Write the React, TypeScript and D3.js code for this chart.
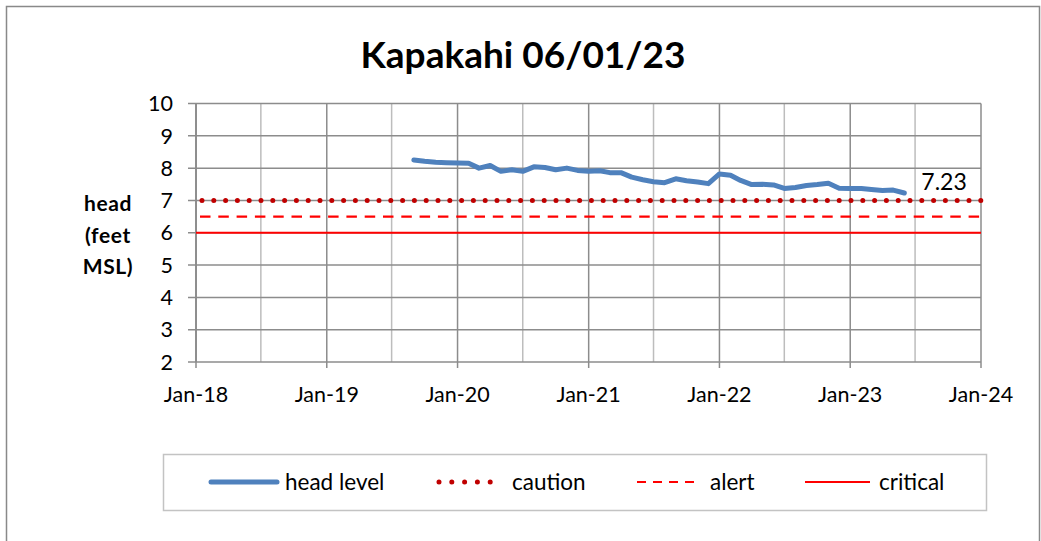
import React from "react";
import * as d3 from "d3";

const title = "Kapakahi 06/01/23";
const yTicks = [2, 3, 4, 5, 6, 7, 8, 9, 10];
const xTickLabels = ["Jan-18", "Jan-19", "Jan-20", "Jan-21", "Jan-22", "Jan-23", "Jan-24"];
const xTickYears = [2018, 2019, 2020, 2021, 2022, 2023, 2024];

// head level, monthly from Sep 2019 to Jun 2023
const headStart = [2019, 8]; // year, month index (0 = Jan)
const headValues = [
  8.25, 8.21, 8.18, 8.17, 8.16, 8.15, 8.0, 8.08, 7.9, 7.95, 7.9, 8.04,
  8.02, 7.95, 8.0, 7.93, 7.9, 7.92, 7.86, 7.86, 7.72, 7.64, 7.58, 7.55,
  7.67, 7.61, 7.57, 7.52, 7.82, 7.78, 7.62, 7.49, 7.5, 7.48, 7.37, 7.4,
  7.46, 7.49, 7.53, 7.38, 7.37, 7.37, 7.34, 7.31, 7.32, 7.23,
];
const caution = 7;
const alert = 6.5;
const critical = 6;
const lastLabel = "7.23";
const legendLabels = ["head level", "caution", "alert", "critical"];

const FONT = "Lato, 'Open Sans', sans-serif";
const BLUE = "#4F81BD";
const DARKRED = "#C00000";
const RED = "#FF0000";

export default function App() {
  const W = 1041, H = 541;
  const left = 196, right = 981, top = 103.5, bottom = 362;
  const x = d3.scaleTime().domain([new Date(2018, 0, 1), new Date(2024, 0, 1)]).range([left, right]);
  const y = d3.scaleLinear().domain([2, 10]).range([bottom, top]);

  const headData = headValues.map((v, i) => ({ d: new Date(headStart[0], headStart[1] + i, 1), v }));
  const line = d3.line<{ d: Date; v: number }>().x((p) => x(p.d)).y((p) => y(p.v));

  const halfYears: Date[] = [];
  for (let yr = 2018; yr <= 2024; yr++) {
    halfYears.push(new Date(yr, 0, 1));
    if (yr < 2024) halfYears.push(new Date(yr, 6, 1));
  }
  const last = headData[headData.length - 1];

  const legendY = 482;
  const legendItems = [
    { x1: 211, x2: 277, tx: 285, label: legendLabels[0], stroke: BLUE, w: 5, dash: undefined as string | undefined, cap: "round" },
    { x1: 439, x2: 503, tx: 512, label: legendLabels[1], stroke: DARKRED, w: 5, dash: "0 12.8", cap: "round" },
    { x1: 637, x2: 700, tx: 710, label: legendLabels[2], stroke: RED, w: 2.2, dash: "9 7", cap: "butt" },
    { x1: 805, x2: 870, tx: 879, label: legendLabels[3], stroke: RED, w: 2, dash: undefined, cap: "butt" },
  ];

  return (
    <svg width={W} height={H} style={{ position: "absolute", left: 0, top: 0, background: "#fff" }} fontFamily={FONT}>
      <rect x={6.5} y={6.5} width={1033} height={560} fill="#fff" stroke="#898989" strokeWidth={1.5} />
      <text x={523} y={68} textAnchor="middle" fontSize={37} fontWeight="bold" fill="#000">{title}</text>

      {/* vertical gridlines */}
      {halfYears.map((d, i) => (
        <line key={"v" + i} x1={x(d)} x2={x(d)} y1={top} y2={bottom} stroke={d.getMonth() === 0 ? "#8c8c8c" : "#bdbdbd"} strokeWidth={1.5} />
      ))}
      {/* horizontal gridlines */}
      {yTicks.map((t) => (
        <line key={"h" + t} x1={left - 8} x2={right} y1={y(t)} y2={y(t)} stroke="#8c8c8c" strokeWidth={1.5} />
      ))}
      {/* x ticks */}
      {xTickYears.map((yr) => (
        <line key={"xt" + yr} x1={x(new Date(yr, 0, 1))} x2={x(new Date(yr, 0, 1))} y1={bottom} y2={bottom + 6} stroke="#8c8c8c" strokeWidth={1.5} />
      ))}
      <line x1={left} x2={left} y1={top} y2={bottom} stroke="#8c8c8c" strokeWidth={1.8} />

      {/* y tick labels */}
      {yTicks.map((t) => (
        <text key={"yl" + t} x={173} y={y(t)} dy="0.36em" textAnchor="end" fontSize={21.5} fill="#000">{t}</text>
      ))}
      {/* x tick labels */}
      {xTickYears.map((yr, i) => (
        <text key={"xl" + yr} x={x(new Date(yr, 0, 1))} y={402} textAnchor="middle" fontSize={21.5} fill="#000">{xTickLabels[i]}</text>
      ))}

      {/* y axis title */}
      <text fontSize={21} fontWeight="bold" textAnchor="middle" fill="#000" letterSpacing={0.6}>
        <tspan x={108} y={211}>head</tspan>
        <tspan x={108} y={243}>(feet</tspan>
        <tspan x={108} y={274}>MSL)</tspan>
      </text>

      {/* threshold lines */}
      <line x1={left} x2={right} y1={y(critical)} y2={y(critical)} stroke={RED} strokeWidth={2} />
      <line x1={left + 4} x2={right} y1={y(alert)} y2={y(alert)} stroke={RED} strokeWidth={2.2} strokeDasharray="10.5 7.8" />
      <line x1={left + 6} x2={right} y1={y(caution)} y2={y(caution)} stroke={DARKRED} strokeWidth={5} strokeDasharray="0 11.8" strokeLinecap="round" />

      {/* head level */}
      <path d={line(headData) || ""} fill="none" stroke={BLUE} strokeWidth={5} strokeLinejoin="round" strokeLinecap="round" />
      <text x={x(last.d) + 17} y={y(last.v) - 3} fontSize={23} fill="#000">{lastLabel}</text>

      {/* legend */}
      <rect x={163.5} y={454.5} width={823} height={56} fill="#fff" stroke="#c3c3c3" strokeWidth={1.5} />
      {legendItems.map((it) => (
        <g key={it.label}>
          <line x1={it.x1} x2={it.x2} y1={legendY} y2={legendY} stroke={it.stroke} strokeWidth={it.w} strokeDasharray={it.dash} strokeLinecap={it.cap as any} />
          <text x={it.tx} y={legendY} dy="0.36em" fontSize={22.5} fill="#000">{it.label}</text>
        </g>
      ))}
    </svg>
  );
}
